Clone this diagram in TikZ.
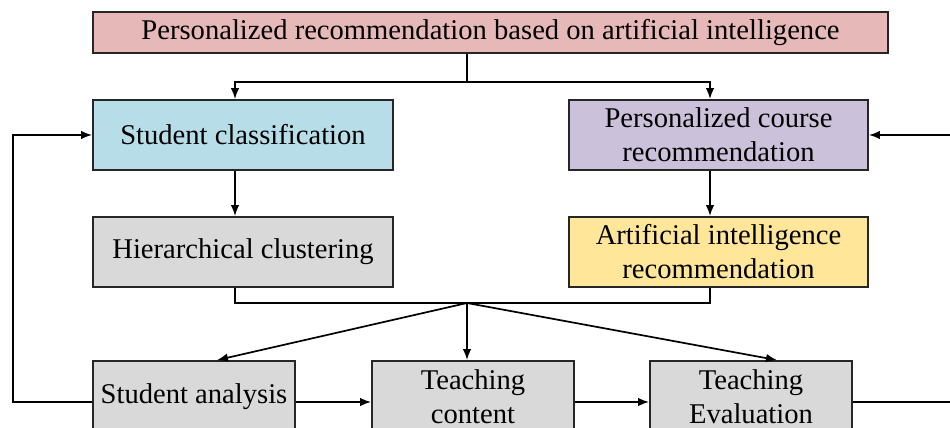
\documentclass[tikz,border=0pt]{standalone}
\usepackage{fontspec}
\setmainfont{Liberation Serif}
\usetikzlibrary{arrows.meta}
\definecolor{boxpink}{HTML}{E6B9B8}
\definecolor{boxblue}{HTML}{B7DEE8}
\definecolor{boxlilac}{HTML}{CCC1DA}
\definecolor{boxgray}{HTML}{D9D9D9}
\definecolor{boxyellow}{HTML}{FFE699}
\begin{document}
\begin{tikzpicture}[x=1pt,y=-1pt]
	\tikzset{box/.style = {shape=rectangle,draw=black!85,line width=1.8pt,inner sep=0pt,align=center,font=\fontsize{28.6}{34}\selectfont}}
	\tikzset{edge/.style = {-{Latex[length=11pt,width=8.5pt]},line width=1.7pt}}
	\path[use as bounding box,fill=white] (0,0) rectangle (950,428);
	\node[box,fill=boxpink,minimum width=795pt,minimum height=41pt] (top) at (490.5,32.5) {Personalized recommendation based on artificial intelligence};
	\node[box,fill=boxblue,minimum width=300pt,minimum height=70pt] (cls) at (243,135) {Student classification};
	\node[box,fill=boxlilac,minimum width=299pt,minimum height=70pt] (crs) at (718.5,135) {Personalized course\\recommendation};
	\node[box,fill=boxgray,minimum width=300pt,minimum height=70pt] (hier) at (243,252) {Hierarchical clustering};
	\node[box,fill=boxyellow,minimum width=299pt,minimum height=70pt] (airec) at (718.5,252) {Artificial intelligence\\recommendation};
	\node[box,fill=boxgray,minimum width=202pt,minimum height=72pt] (ana) at (194,397) {Student analysis};
	\node[box,fill=boxgray,minimum width=202pt,minimum height=72pt] (cont) at (473,397) {Teaching\\content};
	\node[box,fill=boxgray,minimum width=202pt,minimum height=72pt] (eval) at (751,397) {Teaching\\Evaluation};
	\coordinate (split) at (467,82);
	\coordinate (join) at (467,303);
	\coordinate (flow) at (0,402);
	\coordinate (lcol) at (235,0);
	\coordinate (rcol) at (710,0);
	\coordinate (lside) at (13,0);
	\coordinate (rside) at (962,0);
	\draw[line width=1.7pt] (split |- top.south) -- (split);
	\path[edge,draw] (split) -| (lcol |- cls.north);
	\path[edge,draw] (split) -| (rcol |- crs.north);
	\path[edge,draw] (lcol |- cls.south) -- (lcol |- hier.north);
	\path[edge,draw] (rcol |- crs.south) -- (rcol |- airec.north);
	\draw[line width=1.7pt] (lcol |- hier.south) |- (join) -| (rcol |- airec.south);
	\path[edge,draw] (join) -- ([xshift=23pt]ana.north);
	\path[edge,draw] (join) -- (join |- cont.north);
	\path[edge,draw] (join) -- ([xshift=26pt]eval.north);
	\path[edge,draw] (ana.east |- flow) -- (cont.west |- flow);
	\path[edge,draw] (cont.east |- flow) -- (eval.west |- flow);
	\path[edge,draw] (ana.west |- flow) -- (lside |- flow) -- (lside |- cls.west) -- (cls.west);
	\path[edge,draw] (eval.east |- flow) -- (rside |- flow) -- (rside |- crs.east) -- (crs.east);
\end{tikzpicture}
\end{document}
